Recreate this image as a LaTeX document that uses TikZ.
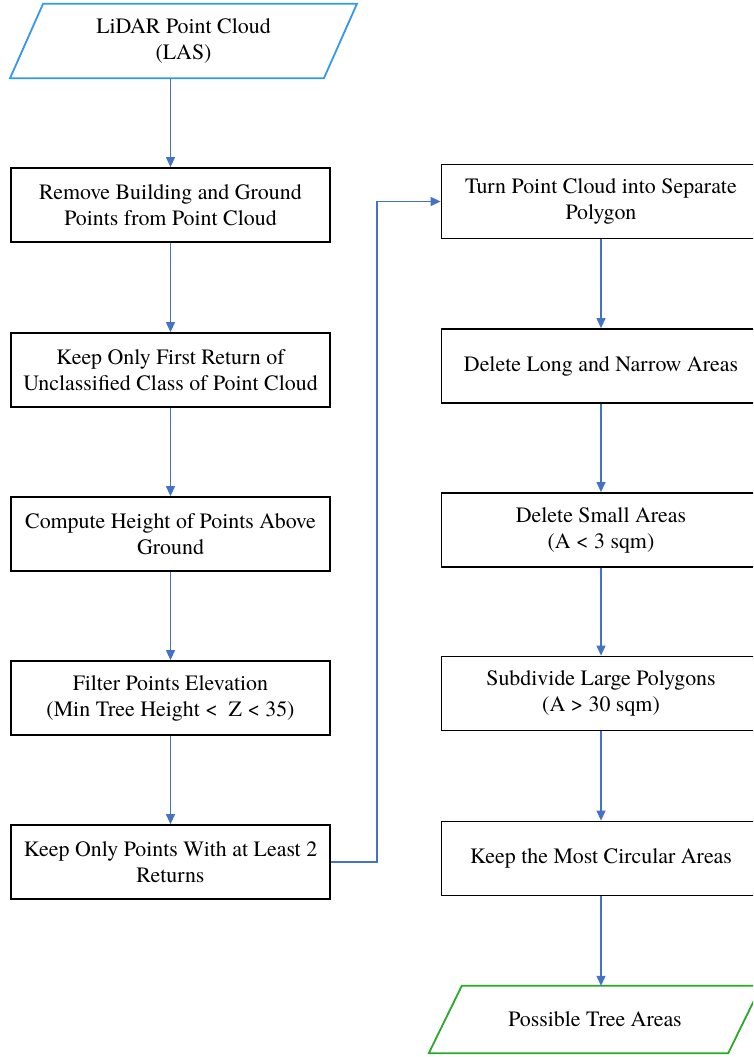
\documentclass[tikz,border=0pt]{standalone}
\usepackage{fontspec}
\setmainfont{texgyretermes}[Extension=.otf, UprightFont=*-regular, BoldFont=*-bold]
\usetikzlibrary{arrows.meta,calc}
\definecolor{flowblue}{RGB}{68,114,196}
\definecolor{inblue}{RGB}{51,153,240}
\definecolor{outgreen}{RGB}{40,170,40}
\begin{document}
\begin{tikzpicture}[x=1pt,y=-1pt,
  txt/.style={align=center, inner sep=0pt, font=\fontsize{21.9}{26}\selectfont},
  stepbox/.style={txt, draw=black, line width=1.8pt, minimum width=319pt, minimum height=74pt},
  iobox/.style={txt, minimum width=#1},
  flow/.style={draw=flowblue, line width=1.2pt, -{Triangle[length=10pt,width=9pt]}}]
  \useasboundingbox (0,0) rectangle (753,1057);
  \clip (0,0) rectangle (753,1057);

  % input data
  \node[iobox=313.5pt, minimum height=74pt] (src) at (183.5,41) {LiDAR Point Cloud\\(LAS)};
  \draw[inblue, line width=1.8pt, line join=miter]
    ($(src.north west)+(16.5,0)$) -- ($(src.north east)+(16.5,0)$) --
    ($(src.south east)-(16.5,0)$) -- ($(src.south west)-(16.5,0)$) -- cycle;

  % point cloud processing
  \node[stepbox] (L1) at (170.5,205) {Remove Building and Ground\\Points from Point Cloud};
  \node[stepbox] (L2) at (170.5,370) {Keep Only First Return of\\Unclassified Class of Point Cloud};
  \node[stepbox] (L3) at (170.5,534) {Compute Height of Points Above\\Ground};
  \node[stepbox] (L4) at (170.5,698) {Filter Points Elevation\\(Min Tree Height <\ \ Z < 35)};
  \node[stepbox] (L5) at (170.5,862) {Keep Only Points With at Least 2\\Returns};

  % polygon processing
  \node[stepbox] (R1) at (601,201.5) {Turn Point Cloud into Separate\\Polygon};
  \node[stepbox] (R2) at (601,366) {Delete Long and Narrow Areas};
  \node[stepbox] (R3) at (601,530) {Delete Small Areas\\(A < 3 sqm)};
  \node[stepbox] (R4) at (601,693.5) {Subdivide Large Polygons\\(A > 30 sqm)};
  \node[stepbox] (R5) at (601,858.5) {Keep the Most Circular Areas};

  % output data
  \node[iobox=299pt, minimum height=67pt] (out) at (595,1019.5) {Possible Tree Areas};
  \draw[outgreen, line width=1.8pt, line join=miter]
    ($(out.north west)+(16.5,0)$) -- ($(out.north east)+(16.5,0)$) --
    ($(out.south east)-(16.5,0)$) -- ($(out.south west)-(16.5,0)$) -- cycle;

  % connectors
  \draw[flow] (src.south -| L1.north) -- (L1.north);
  \draw[flow] (L1) -- (L2);
  \draw[flow] (L2) -- (L3);
  \draw[flow] (L3) -- (L4);
  \draw[flow] (L4) -- (L5);
  \draw[flow] (L5.east) -- ++(46,0) |- (R1.west);
  \draw[flow] (R1) -- (R2);
  \draw[flow] (R2) -- (R3);
  \draw[flow] (R3) -- (R4);
  \draw[flow] (R4) -- (R5);
  \draw[flow] (R5.south) -- (R5.south |- out.north);
\end{tikzpicture}
\end{document}
